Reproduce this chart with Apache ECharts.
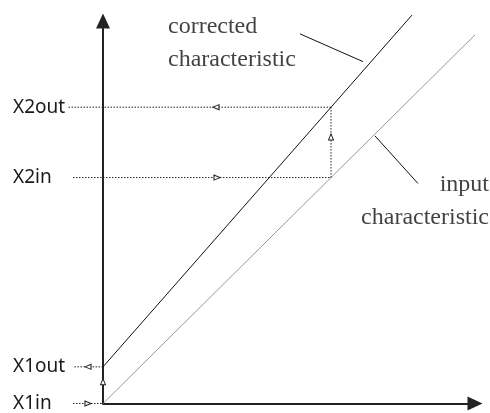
<!DOCTYPE html>
<html>
<head>
<meta charset="utf-8">
<script src="https://cdn.jsdelivr.net/npm/echarts@6/dist/echarts.min.js"></script>
<style>html,body{margin:0;padding:0;background:#fff}#c{width:490px;height:413px}</style>
</head>
<body>
<div id="c"></div>
<script>
// ---- data (units along the axes) ----
const X1in = 0, X1out = 37, X2in = 228, X2out = 299;
const inputCharacteristic = [[0, 0], [372, 372]];
const correctedCharacteristic = [[0, X1out], [309, 392]];
const yTickValues = [X1in, X1out, X2in, X2out];
const yTickLabels = ['X1in', 'X1out', 'X2in', 'X2out'];
const guideStart = -30;
const guides = [
  [[guideStart, X2in], [X2in, X2in]],
  [[X2in, X2in], [X2in, X2out]],
  [[X2in, X2out], [-35, X2out]],
  [[guideStart, X1in], [0, X1in]],
  [[0, X1in], [0, X1out]],
  [[0, X1out], [guideStart, X1out]]
];
const arrowMarks = [[113, X2out, 'left'], [114, X2in, 'right'], [X2in, 269, 'up'],
                    [-15, X1out, 'left'], [-15, X1in, 'right'], [0, 22, 'up']];
const leaders = [[[197, 373], [260, 345]], [[272, 270], [315, 222]]];
const noteCorrected = [65, 364, 'corrected\ncharacteristic'];
const noteInput = [386, 204, 'input\ncharacteristic'];

const rot = { left: 90, right: -90, up: 0 };

function lineSeries(data, style) {
  return { type: 'line', data: data, clip: false, symbol: 'none', silent: true,
           lineStyle: style, z: 2, animation: false };
}
function linesSeries(segs, style, z) {
  return { type: 'lines', coordinateSystem: 'cartesian2d', polyline: true, clip: false,
           silent: true, z: z || 3, animation: false, lineStyle: style,
           data: segs.map(s => ({ coords: s })) };
}
const chart = echarts.init(document.getElementById('c'), null, { renderer: 'canvas' });
chart.setOption({
  backgroundColor: '#fff',
  animation: false,
  grid: { left: 103, top: 21, width: 372, height: 386 },
  xAxis: {
    type: 'value', min: 0, max: 372,
    splitLine: { show: false }, axisTick: { show: false }, axisLabel: { show: false },
    axisLine: { show: true, symbol: ['none', 'triangle'], symbolSize: [14, 15],
                lineStyle: { color: '#222', width: 2 } }
  },
  yAxis: {
    type: 'value', min: 0, max: 386,
    splitLine: { show: false }, axisTick: { show: false },
    axisLabel: {
      show: true, customValues: yTickValues,
      formatter: v => yTickLabels[yTickValues.indexOf(v)] || '',
      align: 'left', margin: 90, fontFamily: 'Noto Sans', fontSize: 19, color: '#1a1a1a'
    },
    axisLine: { show: true, symbol: ['none', 'triangle'], symbolSize: [14, 15],
                lineStyle: { color: '#222', width: 2 } }
  },
  series: [
    lineSeries(inputCharacteristic, { color: '#999', width: 1 }),
    lineSeries(correctedCharacteristic, { color: '#111', width: 1 }),
    linesSeries(guides, { color: '#222', width: 1, type: [1.5, 1.5], opacity: 1 }),
    linesSeries(leaders, { color: '#111', width: 1, opacity: 1 }),
    {
      type: 'scatter', clip: false, silent: true, z: 5,
      data: arrowMarks.map(a => ({ value: [a[0], a[1]], symbolRotate: rot[a[2]] })),
      symbol: 'triangle', symbolSize: [5, 6],
      itemStyle: { color: '#fff', borderColor: '#222', borderWidth: 1, opacity: 1 }
    },
    {
      type: 'scatter', clip: false, silent: true, symbolSize: 0, z: 6,
      data: [{ value: [noteCorrected[0], noteCorrected[1]], name: noteCorrected[2],
               label: { align: 'left' } },
             { value: [noteInput[0], noteInput[1]], name: noteInput[2],
               label: { align: 'right' } }],
      label: { show: true, position: 'inside', formatter: p => p.name, verticalAlign: 'middle',
               fontFamily: 'Liberation Serif', fontSize: 24, lineHeight: 33, color: '#111' }
    }
  ]
});
</script>
</body>
</html>
